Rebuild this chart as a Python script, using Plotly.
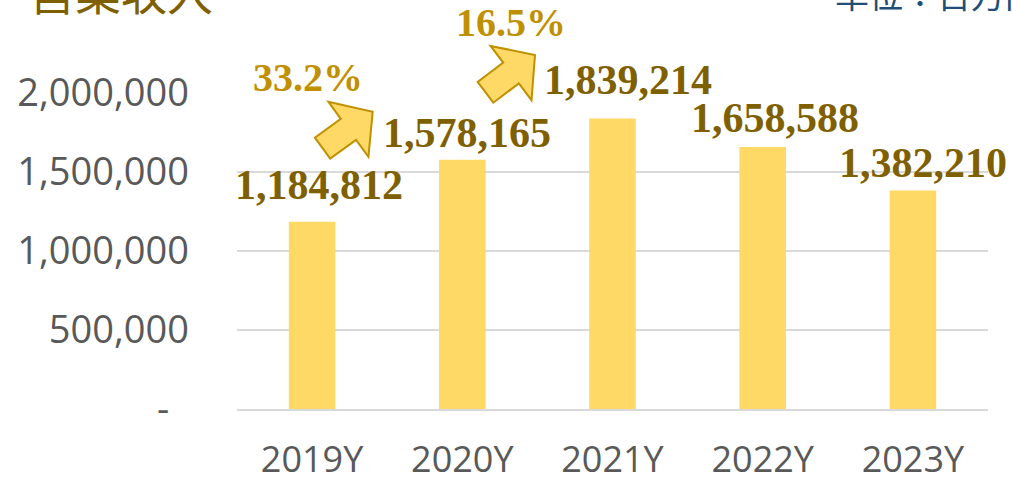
import math
import plotly.graph_objects as go

# ---- data ----
years = ["2019Y", "2020Y", "2021Y", "2022Y", "2023Y"]
revenue = [1184812, 1578165, 1839214, 1658588, 1382210]
growth_labels = ["33.2%", "16.5%"]
y_tickvals = [0, 500000, 1000000, 1500000, 2000000]
y_ticktext = ["-\u00a0\u00a0", "500,000", "1,000,000", "1,500,000", "2,000,000"]
title_text = "営業収入"
unit_text = "単位：百万円"

# ---- style / layout constants ----
W, H = 1012, 483
ML, MR, MT, MB = 237, 24, 93, 74
PW, PH = W - ML - MR, H - MT - MB
label_xshift = [7, 5, 15, 12, 10]
label_gap = [22, 12, 23, 14, 13]

def px2paper(px, py):
    return (px - ML) / PW, (H - MB - py) / PH

def arrow_path(tip, ang_deg, length=62, shaft_w=26, head_w=68, head_len=30):
    a = math.radians(ang_deg)
    d = (math.cos(a), -math.sin(a))
    n = (math.sin(a), math.cos(a))
    tx, ty = tip
    def pt(along, side):
        return (tx - along * d[0] + side * n[0], ty - along * d[1] + side * n[1])
    pts = [pt(0, 0), pt(head_len, head_w / 2), pt(head_len, shaft_w / 2),
           pt(length, shaft_w / 2), pt(length, -shaft_w / 2),
           pt(head_len, -shaft_w / 2), pt(head_len, -head_w / 2)]
    pp = [px2paper(x, y) for x, y in pts]
    return "M " + " L ".join(f"{x:.5f},{y:.5f}" for x, y in pp) + " Z"

fig = go.Figure()
fig.add_trace(go.Bar(x=years, y=revenue, marker=dict(color="#FFD966", line=dict(width=0)),
                     hoverinfo="skip"))

annotations = []
for i, (yr, v) in enumerate(zip(years, revenue)):
    annotations.append(dict(
        x=yr, y=v, xref="x", yref="y", text=f"{v:,}", showarrow=False,
        xanchor="center", yanchor="bottom", xshift=label_xshift[i], yshift=label_gap[i] - 10,
        font=dict(family="Liberation Serif", size=42, color="#7F6000", weight="bold")))

# growth labels
for (cx, by), txt in zip([(308, 93), (511, 38)], growth_labels):
    px, py = px2paper(cx, by + 9)
    annotations.append(dict(x=px, y=py, xref="paper", yref="paper", text=txt, showarrow=False,
                            xanchor="center", yanchor="bottom",
                            font=dict(family="Liberation Serif", size=40, color="#BF9000",
                                      weight="bold")))

tx, ty = px2paper(27, 25)
annotations.append(dict(x=tx, y=ty, xref="paper", yref="paper", text=title_text, showarrow=False,
                        xanchor="left", yanchor="bottom",
                        font=dict(family="Noto Sans CJK JP", size=46, color="#7F6000")))
ux, uy = px2paper(833, 20)
annotations.append(dict(x=ux, y=uy, xref="paper", yref="paper", text=unit_text, showarrow=False,
                        xanchor="left", yanchor="bottom",
                        font=dict(family="Noto Sans CJK JP", size=34, color="#1F4E79")))

shapes = []
for tip, ang in [((372.7, 111.7), 36), ((535, 55), 37)]:
    shapes.append(dict(type="path", xref="paper", yref="paper", path=arrow_path(tip, ang),
                       fillcolor="#FFD966", line=dict(color="#BF9000", width=2), layer="above"))

fig.update_layout(
    width=W, height=H,
    margin=dict(l=ML, r=MR, t=MT, b=MB, pad=0, autoexpand=False),
    paper_bgcolor="white", plot_bgcolor="white",
    bargap=0.69, showlegend=False,
    annotations=annotations, shapes=shapes,
    xaxis=dict(range=[-0.5, 4.5], autorange=False, showgrid=False, showline=True,
               linecolor="#D9D9D9", linewidth=2,
               ticks="", tickfont=dict(family="Open Sans", size=36, color="#595959"),
               ticklabelstandoff=18, fixedrange=True, automargin=False),
    yaxis=dict(range=[0, 2000000], autorange=False, tickvals=y_tickvals, ticktext=y_ticktext,
               showgrid=True, gridcolor="#D9D9D9", gridwidth=2, zeroline=False,
               showline=False, ticks="",
               tickfont=dict(family="Open Sans", size=38, color="#595959"),
               ticklabelstandoff=47, fixedrange=True, automargin=False),
)

fig.write_html("out.html", config={"displayModeBar": False})
